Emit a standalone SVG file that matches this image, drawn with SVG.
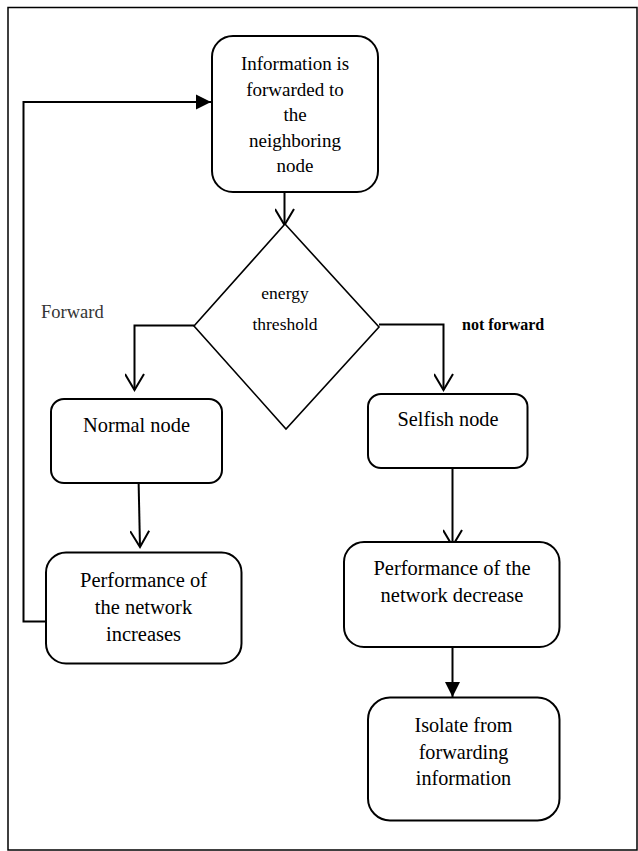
<svg xmlns="http://www.w3.org/2000/svg" width="638" height="851" viewBox="0 0 638 851">
<style>
.box{fill:#fff;stroke:#000;stroke-width:2}
.ln{fill:none;stroke:#000;stroke-width:2}
</style>
<defs>
<marker id="open" markerWidth="22" markerHeight="20" refX="20" refY="10" orient="auto" markerUnits="userSpaceOnUse">
<path d="M4,0.5 L20,10 L4,19.5" fill="none" stroke="#000" stroke-width="2"/>
</marker>
<marker id="fill" markerWidth="16" markerHeight="16" refX="15" refY="8" orient="auto" markerUnits="userSpaceOnUse">
<path d="M0,0.5 L15,8 L0,15.5 Z" fill="#000"/>
</marker>
</defs>
<rect x="8" y="7.5" width="629" height="842.5" fill="#fff" stroke="#000" stroke-width="1.5"/>
<g id="connectors">
<polyline class="ln" points="46,621.5 23.5,621.5 23.5,102 211,102" marker-end="url(#fill)"/>
<line class="ln" x1="284.5" y1="192" x2="284.5" y2="225" marker-end="url(#open)"/>
<polyline class="ln" points="194,325.5 134.5,325.5 134.5,390" marker-end="url(#open)"/>
<polyline class="ln" points="379,324.5 443.5,324.5 443.5,390" marker-end="url(#open)"/>
<line class="ln" x1="138.5" y1="477" x2="140" y2="547" marker-end="url(#open)"/>
<line class="ln" x1="452.5" y1="463" x2="452.5" y2="546" marker-end="url(#open)"/>
<line class="ln" x1="452.5" y1="647" x2="452.5" y2="697" marker-end="url(#fill)"/>
</g>
<g font-family="'Liberation Serif','Times New Roman',serif" fill="#000">
<g id="n-info" text-anchor="middle" font-size="19">
<rect class="box" x="212" y="36" width="166" height="156" rx="21"/>
<text x="295" y="70">Information is</text>
<text x="295" y="96">forwarded to</text>
<text x="295" y="121">the</text>
<text x="295" y="147">neighboring</text>
<text x="295" y="172">node</text>
</g>
<g id="n-energy" text-anchor="middle" font-size="17.5">
<polygon points="285,224 379,327 286,429 194,326" fill="#fff" stroke="#000" stroke-width="1.6"/>
<text x="285" y="299">energy</text>
<text x="285" y="330">threshold</text>
</g>
<g id="l-forward">
<text font-size="18.5" fill="#333" x="41" y="318">Forward</text>
</g>
<g id="l-notforward">
<text font-size="16" font-weight="bold" x="462" y="330">not forward</text>
</g>
<g id="n-normal" text-anchor="middle" font-size="20.4">
<rect class="box" x="51" y="399" width="171" height="84" rx="13"/>
<text x="136.5" y="432">Normal node</text>
</g>
<g id="n-selfish" text-anchor="middle" font-size="20.3">
<rect class="box" x="368" y="394" width="159.5" height="74" rx="13"/>
<text x="448" y="426">Selfish node</text>
</g>
<g id="n-increase" text-anchor="middle" font-size="20.5">
<rect class="box" x="46" y="552.5" width="195.5" height="111" rx="20"/>
<text x="143.5" y="587">Performance of</text>
<text x="143.5" y="614">the network</text>
<text x="143.5" y="641">increases</text>
</g>
<g id="n-decrease" text-anchor="middle" font-size="20.5">
<rect class="box" x="344" y="542" width="215.5" height="105" rx="20"/>
<text x="452" y="575">Performance of the</text>
<text x="452" y="602">network decrease</text>
</g>
<g id="n-isolate" text-anchor="middle" font-size="20.2">
<rect class="box" x="368" y="697.5" width="191.5" height="123" rx="22"/>
<text x="463.5" y="732">Isolate from</text>
<text x="463.5" y="758.5">forwarding</text>
<text x="463.5" y="785">information</text>
</g>
</g>
</svg>
